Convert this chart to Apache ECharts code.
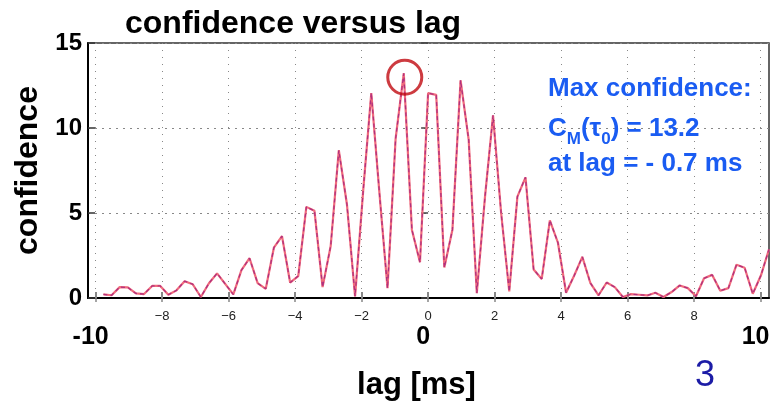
<!DOCTYPE html>
<html>
<head>
<meta charset="utf-8">
<script src="https://cdn.jsdelivr.net/npm/echarts@6/dist/echarts.min.js"></script>
<style>
html,body{margin:0;padding:0;background:#fff;}
#chart{width:778px;height:406px;}
</style>
</head>
<body>
<div id="chart"></div>
<script>
// lag values in ms (sample spacing ~0.244 ms)
var lags = [-9.766, -9.521, -9.277, -9.033, -8.789, -8.545, -8.301, -8.057, -7.813, -7.568,
  -7.324, -7.080, -6.836, -6.592, -6.348, -6.104, -5.859, -5.615, -5.371, -5.127,
  -4.883, -4.639, -4.395, -4.150, -3.906, -3.662, -3.418, -3.174, -2.930, -2.686,
  -2.441, -2.197, -1.953, -1.709, -1.465, -1.221, -0.977, -0.732, -0.488, -0.244,
  0, 0.244, 0.488, 0.732, 0.977, 1.221, 1.465, 1.709, 1.953, 2.197,
  2.441, 2.686, 2.930, 3.174, 3.418, 3.662, 3.906, 4.150, 4.395, 4.639,
  4.883, 5.127, 5.371, 5.615, 5.859, 6.104, 6.348, 6.592, 6.836, 7.080,
  7.324, 7.568, 7.813, 8.057, 8.301, 8.545, 8.789, 9.033, 9.277, 9.521,
  9.766, 10.010, 10.254];
var confidence = [0.21, 0.16, 0.64, 0.62, 0.27, 0.23, 0.71, 0.71, 0.19, 0.45,
  0.99, 0.81, 0.06, 0.87, 1.45, 0.83, 0.21, 1.64, 2.34, 0.87,
  0.54, 2.96, 3.64, 0.91, 1.29, 5.36, 5.13, 0.64, 3.06, 8.69,
  5.5, 0.1, 6.3, 12.06, 6.2, 0.58, 9.38, 13.22, 4.02, 2.1,
  12.05, 11.95, 1.79, 4.02, 12.8, 9.3, 0.29, 5.9, 10.74, 5.0,
  0.39, 5.96, 7.1, 1.68, 1.12, 4.57, 3.25, 0.31, 1.32, 2.42,
  0.87, 0.16, 0.91, 0.64, 0.06, 0.23, 0.19, 0.15, 0.31, 0.06,
  0.35, 0.74, 0.58, 0.1, 1.16, 1.36, 0.43, 0.58, 1.96, 1.78,
  0.25, 1.32, 2.87];
var xGridTicks = [-10, -8, -6, -4, -2, 0, 2, 4, 6, 8, 10];
var xSmallLabels = [-8, -6, -4, -2, 0, 2, 4, 6, 8];
var xBigLabels = [-10, 0, 10];

var pairs = lags.map(function (l, i) { return [l, confidence[i]]; });
var peakIdx = 0;
confidence.forEach(function (v, i) { if (v > confidence[peakIdx]) peakIdx = i; });

var FONT = '"Liberation Sans", Arial, sans-serif';
var XMIN = -10.23, XMAX = 10.254;

var chart = echarts.init(document.getElementById('chart'), null, {renderer: 'canvas'});
chart.setOption({
  animation: false,
  backgroundColor: '#fff',
  title: {
    text: 'confidence versus lag',
    left: 125, top: 8, padding: 0,
    textStyle: {fontFamily: FONT, fontSize: 32, fontWeight: 'bold', color: '#000'}
  },
  grid: {left: 88, right: 9, top: 43, bottom: 105, show: true, borderColor: '#333', borderWidth: 1.5},
  xAxis: [{
    type: 'value', min: XMIN, max: XMAX, position: 'bottom',
    name: 'lag [ms]', nameLocation: 'middle', nameGap: 72,
    nameTextStyle: {fontFamily: FONT, fontSize: 31, fontWeight: 'bold', color: '#000', padding: [0, 24, 0, 0]},
    axisLine: {show: true, onZero: false, lineStyle: {color: '#000', width: 2}},
    axisTick: {show: true, inside: true, length: 6, customValues: xGridTicks, lineStyle: {color: '#888', width: 2}},
    axisLabel: {show: true, customValues: xSmallLabels, margin: 12, fontFamily: FONT, fontSize: 13, color: '#222',
      formatter: function (v) { return v < 0 ? '\u2212' + Math.abs(v) : String(v); }},
    splitLine: {show: true, lineStyle: {color: '#888', width: 1, type: [1, 6]}}
  }, {
    type: 'value', min: XMIN, max: XMAX, position: 'top',
    axisLine: {show: false},
    axisTick: {show: true, inside: true, length: 4, customValues: xGridTicks, lineStyle: {color: '#888', width: 1.5}},
    axisLabel: {show: false},
    splitLine: {show: false}
  }, {
    type: 'value', min: XMIN, max: XMAX, position: 'bottom',
    axisLine: {show: false},
    axisTick: {show: false},
    axisLabel: {show: true, customValues: xBigLabels, margin: 27, fontFamily: FONT, fontSize: 25, fontWeight: 'bold', color: '#000',
      padding: [0, 10, 0, 0], formatter: function (v) { return String(v); }},
    splitLine: {show: false}
  }],
  yAxis: [{
    type: 'value', min: 0, max: 15, interval: 5, position: 'left',
    name: 'confidence', nameLocation: 'middle', nameGap: 42,
    nameTextStyle: {fontFamily: FONT, fontSize: 32, fontWeight: 'bold', color: '#000'},
    axisLine: {show: true, onZero: false, lineStyle: {color: '#000', width: 2}},
    axisTick: {show: true, inside: true, length: 7, lineStyle: {color: '#333', width: 1.5}},
    axisLabel: {margin: 6, fontFamily: FONT, fontSize: 24, fontWeight: 'bold', color: '#000'},
    splitLine: {show: true, lineStyle: {color: '#888', width: 1, type: [2, 5]}}
  }, {
    type: 'value', min: 0, max: 15, interval: 5, position: 'right',
    axisLine: {show: false},
    axisTick: {show: true, inside: true, length: 7, lineStyle: {color: '#444', width: 1.5}},
    axisLabel: {show: false},
    splitLine: {show: false}
  }],
  series: [{
    type: 'line', xAxisIndex: 0, yAxisIndex: 0, data: pairs, symbol: 'none',
    lineStyle: {color: '#f06b7c', width: 2.2}, z: 3
  }, {
    type: 'line', xAxisIndex: 0, yAxisIndex: 0, data: pairs, symbol: 'none',
    lineStyle: {color: '#b0307e', width: 1.3, type: [4, 3]}, z: 4
  }, {
    type: 'scatter', xAxisIndex: 0, yAxisIndex: 0,
    data: [[lags[peakIdx], confidence[peakIdx]]],
    symbol: 'circle', symbolSize: 34, symbolOffset: [1, 4],
    itemStyle: {color: 'rgba(0,0,0,0)', borderColor: '#c00a10', borderWidth: 3}, z: 5,
    silent: true
  }],
  graphic: [{
    type: 'text', left: 548, top: 76, z: 10,
    style: {text: 'Max confidence:', font: 'bold 26px ' + FONT, fill: '#1a5cf2'}
  }, {
    type: 'text', left: 548, top: 116, z: 10,
    style: {
      text: '{a|C}{s|M}{a|(\u03c4}{s|0}{a|) = ' + confidence[peakIdx].toFixed(1) + '}',
      rich: {
        a: {fontFamily: FONT, fontSize: 26, fontWeight: 'bold', fill: '#1a5cf2', color: '#1a5cf2', verticalAlign: 'bottom', padding: [0, 0, 6, 0]},
        s: {fontFamily: FONT, fontSize: 17, fontWeight: 'bold', fill: '#1a5cf2', color: '#1a5cf2', verticalAlign: 'bottom'}
      }
    }
  }, {
    type: 'text', left: 548, top: 151, z: 10,
    style: {text: 'at lag = - 0.7 ms', font: 'bold 26px ' + FONT, fill: '#1a5cf2'}
  }, {
    type: 'text', left: 695, top: 358, z: 10,
    style: {text: '3', font: '36px ' + FONT, fill: '#1c1ca6'}
  }]
});
</script>
</body>
</html>
